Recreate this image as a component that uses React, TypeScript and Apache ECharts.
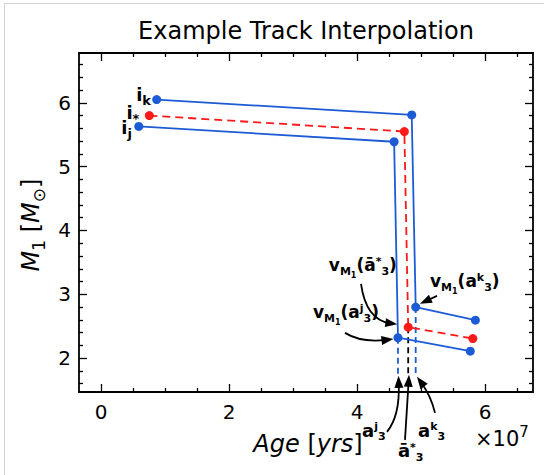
import React, { useEffect, useRef } from "react";
import * as echarts from "echarts";

// Age in units of 1e7 yr, mass M1 in solar masses
const trackJAge = [0.59, 4.58, 4.64, 5.77];
const trackJMass = [5.63, 5.39, 2.32, 2.11];
const trackKAge = [0.87, 4.855, 4.917, 5.85];
const trackKMass = [6.05, 5.81, 2.8, 2.595];
const trackStarAge = [0.755, 4.74, 4.8, 5.81];
const trackStarMass = [5.8, 5.55, 2.486, 2.307];
const dropFloor = 1.71;

const X_MIN = -0.344;
const X_MAX = 6.75;
const Y_MIN = 1.47;
const Y_MAX = 6.78;
const xMajorTicks = [0, 2, 4, 6];
const xMinorTicks = [0.5, 1, 1.5, 2.5, 3, 3.5, 4.5, 5, 5.5, 6.5];
const yMajorTicks = [2, 3, 4, 5, 6];
const yMinorTicks = [1.6, 1.8, 2.2, 2.4, 2.6, 2.8, 3.2, 3.4, 3.6, 3.8, 4.2, 4.4, 4.6, 4.8, 5.2, 5.4, 5.6, 5.8, 6.2, 6.4, 6.6];

// annotation arrows (data coordinates)
const arrows = [
  { from: [4.0625, 3.164], ctrl: [4.141, 2.6], to: [4.63, 2.53] },
  { from: [3.8125, 2.396], ctrl: [4.0625, 2.24], to: [4.57, 2.3] },
  { from: [5.25, 2.976], ctrl: null, to: [4.984, 2.851] },
  { from: [4.469, 0.845], ctrl: [4.672, 1.096], to: [4.648, 1.723] },
  { from: [4.75, 0.72], ctrl: null, to: [4.8125, 1.739] },
  { from: [5.219, 1.143], ctrl: [5.156, 1.409], to: [4.9375, 1.707] },
];

// annotation labels: [style, text] pieces, anchor in data coords
const labels = [
  { parts: [["m", "i"], ["is", "k"]], at: [0.781, 6.274], align: "right" },
  { parts: [["m", "i"], ["is", "*"]], at: [0.6, 5.99], align: "right" },
  { parts: [["m", "i"], ["is", "j"]], at: [0.484, 5.76], align: "right" },
  { parts: [["v", "v"], ["s", "M"], ["ss", "1"], ["v", "(ā"], ["p", "*"], ["s", "3"], ["v", ")"]], at: [3.56, 3.596], align: "left" },
  { parts: [["v", "v"], ["s", "M"], ["ss", "1"], ["v", "(a"], ["p", "j"], ["s", "3"], ["v", ")"]], at: [3.3125, 2.86], align: "left" },
  { parts: [["v", "v"], ["s", "M"], ["ss", "1"], ["v", "(a"], ["p", "k"], ["s", "3"], ["v", ")"]], at: [5.141, 3.346], align: "left" },
  { parts: [["m", "a"], ["p", "j"], ["s", "3"]], at: [4.078, 1.01], align: "left" },
  { parts: [["m", "ā"], ["p", "*"], ["s", "3"]], at: [4.64, 0.693], align: "left" },
  { parts: [["m", "a"], ["p", "k"], ["s", "3"]], at: [4.953, 1.01], align: "left" },
];

const F = "'DejaVu Sans', sans-serif";
const BLUE = "#1c5bd6";
const RED = "#ff1a1a";

const rt = (parts: string[][]) => parts.map(([s, t]) => `{${s}|${t}}`).join("");

const base = { fontWeight: "bold", fontFamily: F, fill: "#000", verticalAlign: "top" };
const annRich = {
  m: { ...base, fontSize: 18, lineHeight: 20 },
  v: { ...base, fontSize: 17, lineHeight: 20, padding: [0, 0, 0, 0] },
  is: { ...base, fontSize: 13, lineHeight: 15, padding: [9, 0, 0, 0] },
  s: { ...base, fontSize: 11, lineHeight: 13, padding: [10, 0, 0, 0] },
  p: { ...base, fontSize: 11, lineHeight: 13, padding: [0, 0, 0, 0] },
  ss: { ...base, fontSize: 8, lineHeight: 10, padding: [15, 0, 0, 0] },
};

const axRich = {
  it: { fontSize: 24, fontStyle: "italic", fontFamily: F, fill: "#000", lineHeight: 26, verticalAlign: "top" },
  rm: { fontSize: 24, fontFamily: F, fill: "#000", lineHeight: 26, verticalAlign: "top" },
  rs: { fontSize: 17, fontFamily: F, fill: "#000", lineHeight: 19, verticalAlign: "top", padding: [11, 0, 0, 0] },
  tm: { fontSize: 21, fontFamily: F, fill: "#000", lineHeight: 24, verticalAlign: "top", padding: [4, 0, 0, 0] },
  tp: { fontSize: 15, fontFamily: F, fill: "#000", lineHeight: 17, verticalAlign: "top", padding: [0, 0, 0, 0] },
};

export default function App() {
  const ref = useRef<HTMLDivElement>(null);
  useEffect(() => {
    const chart = echarts.init(ref.current!, null, { renderer: "svg" });
    const grid = { left: 79, top: 53, width: 454, height: 339 };

    const mkX = (position: string, ticks: number[], len: number, main: boolean, label: boolean) => ({
      type: "value",
      gridIndex: 0,
      position,
      min: X_MIN,
      max: X_MAX,
      axisLine: { show: main, onZero: false, lineStyle: { color: "#000", width: 1.8 } },
      axisTick: { show: true, inside: true, length: len, customValues: ticks, lineStyle: { color: "#000", width: 1.3 } },
      axisLabel: { show: label, customValues: ticks, color: "#000", fontSize: 20, fontFamily: F, margin: 10 },
      splitLine: { show: false },
      minorTick: { show: false },
    });
    const mkY = (position: string, ticks: number[], len: number, main: boolean, label: boolean) => ({
      type: "value",
      gridIndex: 0,
      position,
      min: Y_MIN,
      max: Y_MAX,
      axisLine: { show: main, onZero: false, lineStyle: { color: "#000", width: 1.8 } },
      axisTick: { show: true, inside: true, length: len, customValues: ticks, lineStyle: { color: "#000", width: 1.3 } },
      axisLabel: { show: label, customValues: ticks, color: "#000", fontSize: 20, fontFamily: F, margin: 8 },
      splitLine: { show: false },
      minorTick: { show: false },
    });

    const mkTrack = (ages: number[], masses: number[], color: string, dashed: boolean) => ({
      type: "line",
      xAxisIndex: 0,
      yAxisIndex: 0,
      data: ages.map((a, i) => [a, masses[i]]),
      symbol: "circle",
      symbolSize: 9,
      showSymbol: true,
      lineStyle: { color, width: 1.8, type: dashed ? [8, 5] : "solid" },
      itemStyle: { color },
      z: 3,
      silent: true,
    });
    const mkDrop = (ages: number[], masses: number[], color: string) => ({
      type: "line",
      xAxisIndex: 0,
      yAxisIndex: 0,
      data: [[ages[2], masses[2]], [ages[2], dropFloor]],
      symbol: "none",
      lineStyle: { color, width: 1.8, type: [6, 4] },
      z: 2,
      silent: true,
    });

    chart.setOption({
      animation: false,
      backgroundColor: "#fff",
      grid,
      xAxis: [
        mkX("bottom", xMajorTicks, 8, true, true),
        mkX("bottom", xMinorTicks, 4, false, false),
        mkX("top", xMajorTicks, 8, true, false),
        mkX("top", xMinorTicks, 4, false, false),
      ],
      yAxis: [
        mkY("left", yMajorTicks, 8, true, true),
        mkY("left", yMinorTicks, 4, false, false),
        mkY("right", yMajorTicks, 8, true, false),
        mkY("right", yMinorTicks, 4, false, false),
      ],
      series: [
        mkDrop(trackJAge, trackJMass, BLUE),
        mkDrop(trackStarAge, trackStarMass, "#000"),
        mkDrop(trackKAge, trackKMass, BLUE),
        mkTrack(trackJAge, trackJMass, BLUE, false),
        mkTrack(trackKAge, trackKMass, BLUE, false),
        mkTrack(trackStarAge, trackStarMass, RED, true),
      ],
    });

    const px = (p: number[]) => chart.convertToPixel({ gridIndex: 0 }, p) as number[];
    const els: any[] = [];
    // frame lines of the picture
    els.push({ type: "line", shape: { x1: 4, y1: 3.5, x2: 544, y2: 3.5 }, style: { stroke: "#d0d0d0", lineWidth: 1 }, z: 100 });
    els.push({ type: "line", shape: { x1: 4.5, y1: 3, x2: 4.5, y2: 475 }, style: { stroke: "#d0d0d0", lineWidth: 1 }, z: 100 });

    const cx = grid.left + grid.width / 2;
    els.push({
      type: "text",
      x: cx,
      y: 31,
      z: 100,
      style: { text: "Example Track Interpolation", fontSize: 24, fontFamily: F, fill: "#000", align: "center", verticalAlign: "middle" },
    });
    els.push({
      type: "text",
      x: 308,
      y: 445,
      z: 100,
      style: { text: rt([["it", "Age"], ["rm", " ["], ["it", "yrs"], ["rm", "]"]]), rich: axRich, align: "center", verticalAlign: "middle" },
    });
    els.push({
      type: "text",
      x: 32,
      y: 225,
      rotation: Math.PI / 2,
      z: 100,
      style: { text: rt([["it", "M"], ["rs", "1"], ["rm", " ["], ["it", "M"], ["rs", "⊙"], ["rm", "]"]]), rich: axRich, align: "center", verticalAlign: "middle" },
    });
    els.push({
      type: "text",
      x: 475,
      y: 424,
      z: 100,
      style: { text: rt([["tm", "×10"], ["tp", "7"]]), rich: axRich, align: "left", verticalAlign: "top" },
    });

    arrows.forEach((a) => {
      const p0 = px(a.from);
      const p2 = px(a.to);
      const c = a.ctrl ? px(a.ctrl) : null;
      const d0 = c || p0;
      let dx = p2[0] - d0[0];
      let dy = p2[1] - d0[1];
      const L = Math.hypot(dx, dy);
      dx /= L;
      dy /= L;
      const HL = 12;
      const HW = 4.5;
      const b = [p2[0] - HL * dx, p2[1] - HL * dy];
      const end = [p2[0] - HL * 0.6 * dx, p2[1] - HL * 0.6 * dy];
      if (c) {
        els.push({
          type: "bezierCurve",
          z: 100,
          shape: { x1: p0[0], y1: p0[1], x2: end[0], y2: end[1], cpx1: c[0], cpy1: c[1] },
          style: { stroke: "#000", lineWidth: 1.8, fill: null },
        });
      } else {
        els.push({
          type: "line",
          z: 100,
          shape: { x1: p0[0], y1: p0[1], x2: end[0], y2: end[1] },
          style: { stroke: "#000", lineWidth: 1.8 },
        });
      }
      els.push({
        type: "polygon",
        z: 101,
        shape: {
          points: [
            [p2[0], p2[1]],
            [b[0] - HW * dy, b[1] + HW * dx],
            [b[0] + HW * dy, b[1] - HW * dx],
          ],
        },
        style: { fill: "#000" },
      });
    });

    labels.forEach((l) => {
      const p = px(l.at);
      els.push({
        type: "text",
        x: p[0],
        y: p[1],
        z: 102,
        style: { text: rt(l.parts), rich: annRich, align: l.align, verticalAlign: "top" },
      });
    });

    chart.setOption({ graphic: els });
    return () => chart.dispose();
  }, []);
  return <div ref={ref} style={{ position: "absolute", left: 0, top: 0, width: 544, height: 475 }} />;
}
